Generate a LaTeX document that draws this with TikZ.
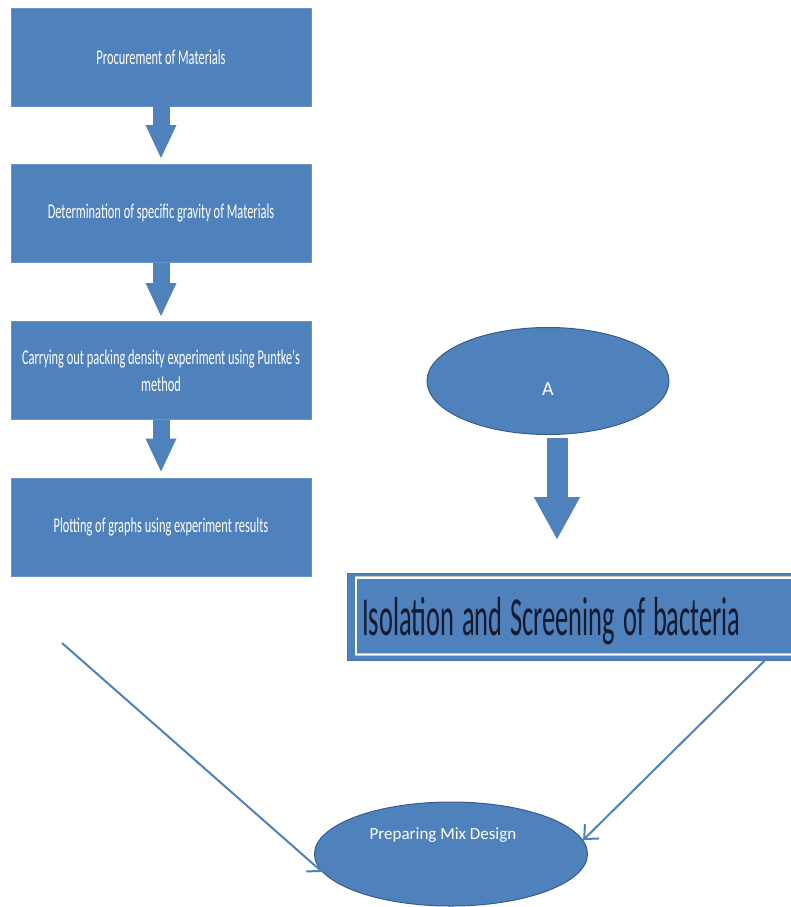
\documentclass[tikz,border=0pt]{standalone}
\usepackage{fontspec}
\setmainfont{Carlito}
\newfontfamily\boxfont[FakeStretch=0.59]{Carlito}
\newfontfamily\bannerfont[FakeStretch=0.48]{Carlito}
\newcommand\bannerfontset{\bannerfont\fontsize{55}{60}\selectfont\spaceskip=8pt\relax}
\usetikzlibrary{arrows.meta}
\usetikzlibrary{shapes}
\definecolor{officeblue}{HTML}{4F81BD}
\definecolor{officeedge}{HTML}{385D8A}
\definecolor{bannerink}{HTML}{151A2E}

\begin{document}
\begin{tikzpicture}[x = 1pt, y = -1pt]
\tikzstyle{StepStyle}=[shape = rectangle,
                       fill = officeblue,
                       draw = officeblue!85!white,
                       line width = 0.6pt,
                       minimum width = 300pt,
                       minimum height = 98pt,
                       inner sep = 0pt,
                       text = white,
                       align = center,
                       font = \boxfont\fontsize{21}{27}\selectfont]
\tikzstyle{BannerStyle}=[shape = rectangle,
                         anchor = west,
                         fill = officeblue,
                         draw = officeblue!90!black,
                         line width = 0.6pt,
                         minimum height = 87pt,
                         inner xsep = 15pt,
                         text depth = 0pt,
                         text = bannerink,
                         font = \bannerfontset]
\tikzstyle{OvalStyle}=[shape = ellipse,
                       fill = officeblue,
                       draw = officeedge,
                       line width = 1pt,
                       inner sep = 0pt,
                       text = white]
\tikzstyle{BlockArrow}=[officeblue, line width = 17pt,
                        -{Triangle[length = 34pt, width = 28pt]}]
\tikzstyle{BigArrow}=[officeblue, line width = 21pt,
                      -{Triangle[length = 43pt, width = 43pt]}]
\tikzstyle{ThinArrow}=[officeblue, line width = 2pt,
                       -{Straight Barb[length = 11pt, width = 20pt]}]
\useasboundingbox (0,0) rectangle (791,907);
\node[StepStyle] (s1) at (161, 57) {Procurement of Materials};
\node[StepStyle] (s2) at (161, 213.5) {Determination of specific gravity of Materials};
\node[StepStyle] (s3) at (161, 370.5) {Carrying out packing density experiment\ using Puntke's\\method};
\node[StepStyle] (s4) at (161, 527) {Plotting of graphs using experiment\ results};
\node[OvalStyle, minimum width = 242pt, minimum height = 107pt,
      text height = 28pt, text depth = 0pt,
      font = \fontsize{20}{24}\selectfont] (A) at (548, 381) {A};
\node[BannerStyle] (iso) at (347, 616.5) {\makebox[450pt][l]{Isolation and Screening of bacteria}};
\draw[gray!45, double = white, double distance = 1.6pt, line width = 0.5pt]
  ([xshift = 20pt, yshift = -5pt]iso.north east) -| ([xshift = 9pt, yshift = 6pt]iso.south west)
  -- ([xshift = 20pt, yshift = 6pt]iso.south east);
\node[OvalStyle, minimum width = 273pt, minimum height = 104pt,
      text height = 12pt, text depth = 42pt,
      font = \fontsize{17}{20}\selectfont] (mix) at (451, 854) {Preparing Mix Design\kern16pt};
\coordinate (atip) at (557, 540);
\coordinate (lstart) at (62, 643);
\draw[BlockArrow] (s1.south) -- ([yshift = 5pt]s2.north);
\draw[BlockArrow] (s2.south) -- ([yshift = 4pt]s3.north);
\draw[BlockArrow] (s3.south) -- ([yshift = 5pt]s4.north);
\draw[BigArrow, shorten < = 3pt] (A.south -| atip) -- (atip);
\draw[ThinArrow] (lstart) -- (mix.188);
\draw[ThinArrow] ([xshift = 418pt]iso.south west) -- (mix.6);
\end{tikzpicture}
\end{document}
